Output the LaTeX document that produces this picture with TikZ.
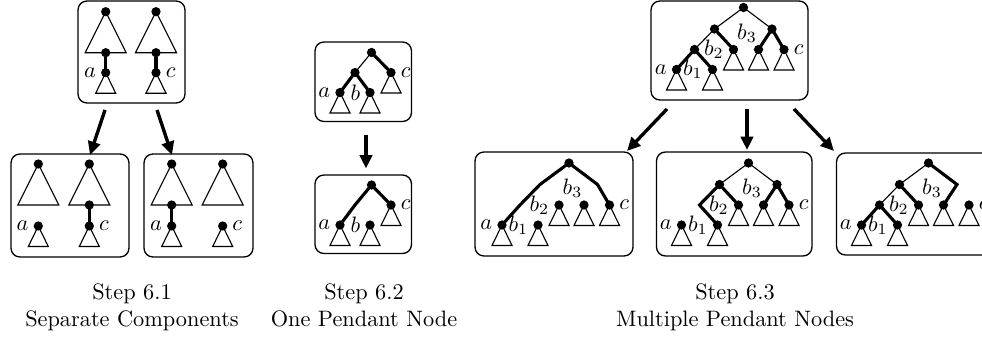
\documentclass[tikz,border=0pt]{standalone}
\usepackage{tikz}
\usetikzlibrary{fit,arrows.meta}
\tikzstyle{dot}=[circle,draw,fill=black,inner sep=0pt,outer sep=0pt,minimum width=3.6pt]
\tikzstyle{heavy}=[draw,line width=1.4pt]
\tikzstyle{panel}=[draw,semithick,rounded corners=4pt,inner sep=0pt]
\tikzstyle{push}=[line width=1.5pt,-{Triangle[length=6pt,width=5.5pt]}]
\tikzstyle{caption}=[align=center,anchor=north,inner sep=0pt]

\begin{document}
\begin{tikzpicture}[x=0.448pt,y=-0.448pt,line width=0.5pt,label distance=-1pt]
\useasboundingbox (0,0) rectangle (982,337);

% panels
\node[panel,fit={(78,1) (185,103)}] (p1) {};
\node[panel,fit={(11,154) (129,257)}] (p2) {};
\node[panel,fit={(144,154) (253,257)}] (p3) {};
\node[panel,fit={(315,42) (411.5,121.5)}] (p4) {};
\node[panel,fit={(315,175) (411.5,253.5)}] (p5) {};
\node[panel,fit={(651,1) (808,100)}] (p6) {};
\node[panel,fit={(475,152) (633,256)}] (p7) {};
\node[panel,fit={(656.5,152) (812,256)}] (p8) {};
\node[panel,fit={(836.5,153) (994,255)}] (p9) {};

% step 6.1
\path (105.7,11.7) node[dot] (r1) {}
    ++(0,41) node[dot] (m1) {}
    ++(0,20) node[dot,label=left:$a$] (a1) {} edge[heavy] (m1);
\path (156,11.7) node[dot] (r2) {}
    ++(0,41) node[dot] (m2) {}
    ++(0,20) node[dot,label=right:$c$] (c1) {} edge[heavy] (m2);
\path (38.3,164) node[dot] (r3) {}
    ++(0,62) node[dot,label=left:$a$] (a2) {};
\path (89.3,164) node[dot] (r4) {}
    ++(0,41) node[dot] (m4) {}
    ++(0,21) node[dot,label=right:$c$] (c2) {} edge[heavy] (m4);
\path (171.7,164) node[dot] (r5) {}
    ++(0,41) node[dot] (m5) {}
    ++(0,21) node[dot,label=left:$a$] (a3) {} edge[heavy] (m5);
\path (222.7,164) node[dot] (r6) {}
    ++(0,62) node[dot,label=right:$c$] (c3) {};

% step 6.2
\path (371.5,52.5) node[dot] (s1) {}
    ++(-16.5,20) node[dot] (s1L) {} edge (s1)
    ++(-15,20) node[dot,label=left:$a$] (s1a) {} edge[heavy] (s1L)
    ++(30,0) node[dot,label=left:$b$] (s1b) {} edge[heavy] (s1L)
    ++(21,-20) node[dot,label=right:$c$] (s1c) {} edge[heavy] (s1);
\path (371.5,185) node[dot] (s2) {}
    ++(-16.5,20) coordinate (s2L)
    ++(-15,20) node[dot,label=left:$a$] (s2a) {}
    ++(30,0) node[dot,label=left:$b$] (s2b) {}
    ++(21,-20) node[dot,label=right:$c$] (s2c) {} edge[heavy] (s2);
\draw[heavy] (s2) -- (s2L) -- (s2a);

% step 6.3
\path (743.5,7.5) node[dot] (u1) {}
    ++(-29,21.5) node[dot] (u1L) {} edge (u1)
    ++(-20,20.5) node[dot] (u1LL) {} edge (u1L)
    ++(-18,20) node[dot,label=left:$a$] (u1a) {} edge[heavy] (u1LL)
    ++(36,0) node[dot,label=left:$b_1$] (u1b1) {} edge[heavy] (u1LL)
    ++(21,-20) node[dot,label=left:$b_2$] (u1b2) {} edge[heavy] (u1L)
    ++(25,0) node[dot] (u1RL) {}
    ++(13.5,-20.5) node[dot] (u1R) {} edge (u1) edge[heavy] (u1RL)
    ++(12,20.5) node[dot,label=right:$c$] (u1c) {} edge[heavy] (u1R);
\path (u1R.center) ++(-25,4) node (u1b3) {$b_3$};

\path (569,163) node[dot] (u2) {}
    ++(-29,21.5) coordinate (u2L)
    ++(-20,20.5) coordinate (u2LL)
    ++(-18,20) node[dot,label=left:$a$] (u2a) {}
    ++(36,0) node[dot,label=left:$b_1$] (u2b1) {}
    ++(21,-20) node[dot,label=left:$b_2$] (u2b2) {}
    ++(25,0) node[dot] (u2RL) {}
    ++(13.5,-20.5) coordinate (u2R)
    ++(12,20.5) node[dot,label=right:$c$] (u2c) {};
\draw[heavy] (u2a) -- (u2LL) -- (u2L) -- (u2) -- (u2R) -- (u2c);
\path (u2R) ++(-25,4) node (u2b3) {$b_3$};

\path (748.5,163) node[dot] (u3) {}
    ++(-29,21.5) node[dot] (u3L) {} edge (u3)
    ++(-20,20.5) coordinate (u3LL)
    ++(-18,20) node[dot,label=left:$a$] (u3a) {}
    ++(36,0) node[dot,label=left:$b_1$] (u3b1) {}
    ++(21,-20) node[dot,label=left:$b_2$] (u3b2) {} edge[heavy] (u3L)
    ++(25,0) node[dot] (u3RL) {}
    ++(13.5,-20.5) node[dot] (u3R) {} edge (u3) edge[heavy] (u3RL)
    ++(12,20.5) node[dot,label=right:$c$] (u3c) {} edge[heavy] (u3R);
\draw[heavy] (u3L) -- (u3LL) -- (u3b1);
\path (u3R.center) ++(-25,4) node (u3b3) {$b_3$};

\path (928.5,163) node[dot] (u4) {}
    ++(-29,21.5) node[dot] (u4L) {} edge (u4)
    ++(-20,20.5) node[dot] (u4LL) {} edge (u4L)
    ++(-18,20) node[dot,label=left:$a$] (u4a) {} edge[heavy] (u4LL)
    ++(36,0) node[dot,label=left:$b_1$] (u4b1) {} edge[heavy] (u4LL)
    ++(21,-20) node[dot,label=left:$b_2$] (u4b2) {} edge[heavy] (u4L)
    ++(25,0) node[dot] (u4RL) {}
    ++(13.5,-20.5) coordinate (u4R)
    ++(12,20.5) node[dot,label=right:$c$] (u4c) {};
\draw[heavy] (u4) -- (u4R) -- (u4RL);
\path (u4R) ++(-25,4) node (u4b3) {$b_3$};

% subtrees
\foreach \n in {r1,r2,r3,r4,r5,r6}
    \draw (\n.center) -- ++(-20.5,41) -- ++(41,0) -- cycle;
\foreach \n in {a1,c1,a2,c2,a3,c3,s1a,s1b,s1c,s2a,s2b,s2c,
                u1a,u1b1,u1b2,u1RL,u1c,u2a,u2b1,u2b2,u2RL,u2c,
                u3a,u3b1,u3b2,u3RL,u3c,u4a,u4b1,u4b2,u4RL,u4c}
    \draw (\n.center) -- ++(-10,20.5) -- ++(20,0) -- cycle;

% arrows
\coordinate (o1) at (105,110); \coordinate (i1) at (90,155);
\coordinate (o2) at (157,110); \coordinate (i2) at (172,155);
\coordinate (o3) at (366,135); \coordinate (i3) at (366,168.5);
\coordinate (o4) at (667,109); \coordinate (i4) at (627,151);
\coordinate (o5) at (747,109); \coordinate (i5) at (747,150);
\coordinate (o6) at (794,109); \coordinate (i6) at (834,151);
\foreach \s/\t in {o1/i1,o2/i2,o3/i3,o4/i4,o5/i5,o6/i6}
    \draw[push] (\s) -- (\t);

% captions
\node[caption] (cap1) at (132,283) {Step 6.1\\Separate Components};
\node[caption] (cap2) at (364,283) {Step 6.2\\One Pendant Node};
\node[caption] (cap3) at (735,283) {Step 6.3\\Multiple Pendant Nodes};
\end{tikzpicture}
\end{document}
